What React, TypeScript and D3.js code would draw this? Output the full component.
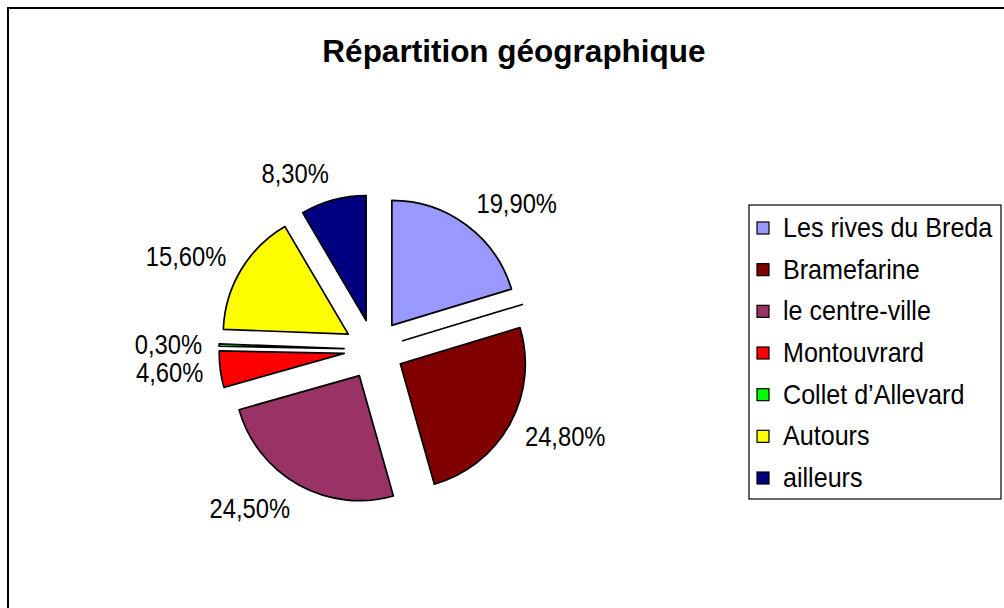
import React, { useEffect, useRef } from "react";
import * as d3 from "d3";

// slices in drawing order (clockwise from 12 o'clock); the blank one is a 0 row
const categories = [
  "Les rives du Breda",
  "",
  "Bramefarine",
  "le centre-ville",
  "Montouvrard",
  "Collet d\u2019Allevard",
  "Autours",
  "ailleurs",
];
const values = [19.9, 0, 24.8, 24.5, 4.6, 0.3, 15.6, 8.3];
const labels = ["19,90%", "", "24,80%", "24,50%", "4,60%", "0,30%", "15,60%", "8,30%"];
const colors = ["#9999FF", "#FFFFFF", "#800000", "#993366", "#FF0000", "#00FF00", "#FFFF00", "#000080"];

const title = "Répartition géographique";
const font = "'Liberation Sans', Arial, sans-serif";

const App = () => {
  const svgRef = useRef<SVGSVGElement | null>(null);

  useEffect(() => {
    const svg = d3.select(svgRef.current);
    svg.selectAll("*").remove();

    const W = 1004;
    const H = 608;

    // chart frame (runs off the right and bottom of the page)
    svg
      .append("rect")
      .attr("x", 8)
      .attr("y", 8)
      .attr("width", W + 20)
      .attr("height", H + 20)
      .attr("fill", "#fff")
      .attr("stroke", "#000")
      .attr("stroke-width", 2);

    svg
      .append("text")
      .attr("x", 514)
      .attr("y", 62)
      .attr("text-anchor", "middle")
      .style("font-family", font)
      .style("font-size", "31.5px")
      .style("font-weight", "bold")
      .text(title);

    const cx = 374;
    const cy = 349.5;
    const radius = 125;
    const explode = 30;
    const labelR = 172;

    const data = categories.map((c, i) => ({ name: c, value: values[i], label: labels[i], color: colors[i] }));

    const pie = d3
      .pie<any>()
      .sort(null)
      .value((d) => d.value);
    const arc = d3.arc<any>().innerRadius(0).outerRadius(radius);

    const g = svg.append("g").attr("transform", `translate(${cx},${cy})`);

    const arcs = pie(data);
    const mid = (d: any) => (d.startAngle + d.endAngle) / 2;

    g.selectAll("path")
      .data(arcs)
      .enter()
      .append("path")
      .attr("d", arc)
      .attr("fill", (d) => d.data.color)
      .attr("stroke", "#000")
      .attr("stroke-width", 1.7)
      .attr("stroke-linejoin", "round")
      .attr("transform", (d) => `translate(${Math.sin(mid(d)) * explode},${-Math.cos(mid(d)) * explode})`);

    // data labels outside the exploded slices (glyphs a bit tall and narrow, like the original)
    g.selectAll("text.lbl")
      .data(arcs.filter((d) => d.data.label))
      .enter()
      .append("text")
      .attr("class", "lbl")
      .attr("transform", (d) => {
        const a = mid(d);
        const x = Math.sin(a) * labelR;
        const y = -Math.cos(a) * labelR - Math.cos(a) * 10 + 9.5;
        return `translate(${x},${y}) scale(0.88,1)`;
      })
      .attr("text-anchor", (d) => (Math.sin(mid(d)) >= 0 ? "start" : "end"))
      .style("font-family", font)
      .style("font-size", "27px")
      .text((d) => d.data.label);

    // legend
    const legendItems = data.filter((d) => d.name);
    const lg = svg.append("g");
    lg.append("rect")
      .attr("x", 749)
      .attr("y", 205)
      .attr("width", 252)
      .attr("height", 294)
      .attr("fill", "#fff")
      .attr("stroke", "#000")
      .attr("stroke-width", 1.2);

    const row = d3
      .scalePoint<string>()
      .domain(legendItems.map((d) => d.name))
      .range([227, 477]);

    const item = lg
      .selectAll("g.item")
      .data(legendItems)
      .enter()
      .append("g")
      .attr("class", "item")
      .attr("transform", (d) => `translate(0,${row(d.name)})`);

    item
      .append("rect")
      .attr("x", 757)
      .attr("y", -5)
      .attr("width", 12)
      .attr("height", 12)
      .attr("fill", (d) => d.color)
      .attr("stroke", "#000")
      .attr("stroke-width", 1.2);

    item
      .append("text")
      .attr("transform", "translate(783,10) scale(0.93,1)")
      .style("font-family", font)
      .style("font-size", "27px")
      .text((d) => d.name);
  }, []);

  return (
    <svg
      ref={svgRef}
      width={1004}
      height={608}
      style={{ position: "absolute", left: 0, top: 0, background: "#fff" }}
    ></svg>
  );
};

export default App;
